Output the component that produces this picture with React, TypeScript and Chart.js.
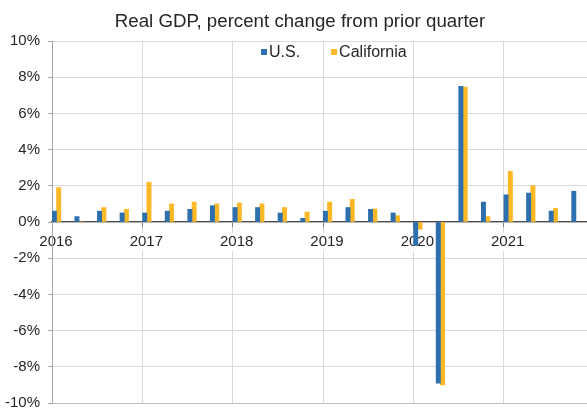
import React, { useEffect, useRef } from 'react';
import { Chart, registerables } from 'chart.js';

Chart.register(...registerables);

const chartTitle = 'Real GDP, percent change from prior quarter';
const seriesNames = ['U.S.', 'California'];
const quarters = [
  '2016Q1', '2016Q2', '2016Q3', '2016Q4',
  '2017Q1', '2017Q2', '2017Q3', '2017Q4',
  '2018Q1', '2018Q2', '2018Q3', '2018Q4',
  '2019Q1', '2019Q2', '2019Q3', '2019Q4',
  '2020Q1', '2020Q2', '2020Q3', '2020Q4',
  '2021Q1', '2021Q2', '2021Q3', '2021Q4',
];
const usGrowth = [
  0.6, 0.3, 0.6, 0.5,
  0.5, 0.6, 0.7, 0.9,
  0.8, 0.8, 0.5, 0.2,
  0.6, 0.8, 0.7, 0.5,
  -1.3, -8.9, 7.5, 1.1,
  1.5, 1.6, 0.6, 1.7,
];
const caGrowth = [
  1.9, 0, 0.8, 0.7,
  2.2, 1.0, 1.1, 1.0,
  1.05, 1.0, 0.8, 0.55,
  1.1, 1.25, 0.72, 0.35,
  -0.4, -9.0, 7.45, 0.3,
  2.8, 2.0, 0.75, null,
];
const yearLabels = ['2016', '2017', '2018', '2019', '2020', '2021'];

const BLUE = '#2E6FAE';
const GOLD = '#FDB825';
const TEXT = '#262626';
const FONT = '"Liberation Sans", Arial, sans-serif';

const overlayPlugin = {
  id: 'overlay',
  afterDraw(chart: any) {
    const ctx = chart.ctx;
    ctx.save();
    ctx.fillStyle = TEXT;
    ctx.font = `18.7px ${FONT}`;
    ctx.textAlign = 'center';
    ctx.textBaseline = 'alphabetic';
    ctx.fillText(chartTitle, 300, 26.5);

    ctx.font = `16px ${FONT}`;
    ctx.textAlign = 'left';
    let x = 261;
    chart.data.datasets.forEach((ds: any) => {
      ctx.fillStyle = ds.backgroundColor;
      ctx.fillRect(x, 49, 6, 6);
      x += 8;
      ctx.fillStyle = TEXT;
      ctx.fillText(ds.label, x, 56.5);
      x += ctx.measureText(ds.label).width + 31;
    });
    ctx.restore();
  },
};

export default function App() {
  const ref = useRef<HTMLCanvasElement>(null);

  useEffect(() => {
    if (!ref.current) return;
    Chart.defaults.font.family = FONT;
    Chart.defaults.font.size = 15;
    Chart.defaults.color = TEXT;

    const mk = (vals: (number | null)[]) =>
      quarters.map((_, i) => ({ x: i * 3 + 0.6, y: vals[i] }));

    const chart = new Chart(ref.current, {
      type: 'bar',
      data: {
        datasets: [
          { label: seriesNames[0], data: mk(usGrowth) as any, backgroundColor: BLUE, barThickness: 4.3 },
          { label: seriesNames[1], data: mk(caGrowth) as any, backgroundColor: GOLD, barThickness: 4.3 },
        ],
      },
      options: {
        animation: false,
        responsive: false,
        layout: { padding: { left: 0, right: 2, top: 41, bottom: 16 } },
        plugins: {
          legend: { display: false },
          title: { display: false },
          tooltip: { enabled: false },
        },
        scales: {
          x: {
            type: 'linear',
            position: { y: 0 } as any,
            offset: false,
            min: 0,
            max: 72,
            z: 1,
            grid: {
              offset: false,
              color: (c: any) => (c.tick && c.tick.value === 0 ? 'rgba(0,0,0,0)' : '#d9d9d9'),
              tickLength: 5,
              tickColor: '#7f7f7f',
            },
            border: { color: '#4d4d4d', width: 1.2 },
            ticks: {
              stepSize: 12,
              autoSkip: false,
              maxRotation: 0,
              padding: 6,
              labelOffset: 4,
              color: TEXT,
              font: { size: 15 },
              showLabelBackdrop: true,
              backdropColor: '#ffffff',
              backdropPadding: 0,
              callback: (v: any) => yearLabels[Math.round(Number(v) / 12)] ?? '',
            } as any,
          },
          y: {
            type: 'linear',
            min: -10,
            max: 10,
            grid: {
              color: (c: any) => (c.tick && c.tick.value === -10 ? '#bfbfbf' : '#d9d9d9'),
              tickLength: 4,
              tickColor: '#a6a6a6',
            },
            border: { color: '#a6a6a6', width: 1 },
            ticks: {
              stepSize: 2,
              padding: 8,
              color: TEXT,
              font: { size: 15 },
              callback: (v: any) => `${v}%`,
            },
            afterFit: (s: any) => {
              s.width = 52;
            },
          },
        },
      },
      plugins: [overlayPlugin],
    });
    return () => chart.destroy();
  }, []);

  return (
    <div
      style={{
        position: 'fixed',
        left: 0,
        top: 0,
        width: 587,
        height: 409,
        overflow: 'hidden',
        background: '#ffffff',
      }}
    >
      <canvas ref={ref} width={600} height={420} style={{ display: 'block', width: 600, height: 420 }} />
    </div>
  );
}
